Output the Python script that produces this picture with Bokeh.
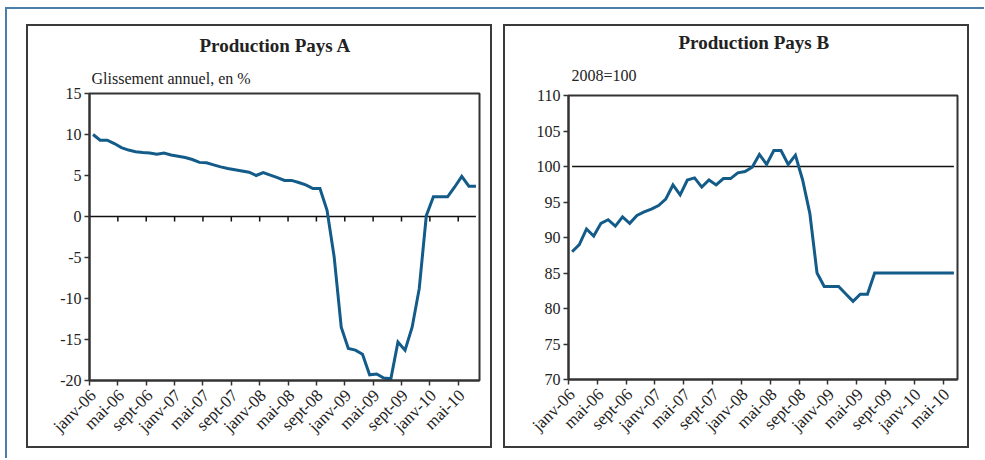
import math
from bokeh.plotting import figure
from bokeh.models import Range1d, FixedTicker, Title, Spacer
from bokeh.layouts import row, column
from bokeh.embed import file_html
from bokeh.resources import INLINE

# ---------------- data ----------------
month_labels = ["janv-06", "mai-06", "sept-06", "janv-07", "mai-07", "sept-07",
                "janv-08", "mai-08", "sept-08", "janv-09", "mai-09", "sept-09",
                "janv-10", "mai-10"]

# Production Pays A : glissement annuel, en % (janv-06 .. juil-10)
pays_a = [10.0, 9.3, 9.3, 8.9, 8.4, 8.1, 7.9, 7.8, 7.75, 7.6,
          7.75, 7.5, 7.35, 7.2, 6.95, 6.6, 6.55, 6.3, 6.05, 5.85,
          5.7, 5.55, 5.4, 5.0, 5.35, 5.05, 4.75, 4.4, 4.4, 4.15,
          3.85, 3.4, 3.4, 0.75, -4.9, -13.5, -16.1, -16.3, -16.8, -19.3,
          -19.2, -19.7, -19.8, -15.3, -16.3, -13.5, -8.8, 0.1, 2.4, 2.4,
          2.4, 3.6, 4.9, 3.7, 3.7]

# Production Pays B : 2008=100 (janv-06 .. juin-10)
pays_b = [88.0, 89.0, 91.2, 90.2, 92.0, 92.5, 91.6, 92.9, 92.0, 93.1,
          93.6, 94.0, 94.5, 95.4, 97.4, 96.0, 98.1, 98.4, 97.1, 98.1,
          97.4, 98.3, 98.3, 99.1, 99.3, 99.9, 101.7, 100.3, 102.25, 102.25,
          100.3, 101.6, 98.1, 93.4, 85.0, 83.1, 83.1, 83.1, 82.05, 81.0,
          82.0, 82.0, 85.0, 85.0, 85.0, 85.0, 85.0, 85.0, 85.0, 85.0,
          85.0, 85.0, 85.0, 85.0]

yticks_a = [-20, -15, -10, -5, 0, 5, 10, 15]
yticks_b = [70, 75, 80, 85, 90, 95, 100, 105, 110]
ref_a = 0
ref_b = 100

titles = ["Production Pays A", "Production Pays B"]
subtitles = ["Glissement annuel, en %", "2008=100"]

FONT = "Liberation Serif"
LINE_COLOR = "#135b88"
DARK = "#333333"
FRAME_BLUE = "#4a7fab"
PANEL_BORDER = "#3a3a3a"
TEXT = "#222222"


def make_panel(data, yticks, ref, ref_x0, title, subtitle,
               frame_w, frame_h, mb_l, mb_t, mb_r, mb_b,
               title_off, sub_off, title_standoff, sub_standoff, zero_ticks):
    n = len(data)
    p = figure(frame_width=frame_w, frame_height=frame_h,
               x_range=Range1d(0, n), y_range=Range1d(yticks[0], yticks[-1]),
               output_backend="svg", toolbar_location=None,
               min_border_left=mb_l, min_border_top=mb_t,
               min_border_right=mb_r, min_border_bottom=mb_b)
    p.background_fill_color = "white"
    p.border_fill_color = "white"
    p.outline_line_color = DARK
    p.outline_line_width = 2
    p.xgrid.visible = False
    p.ygrid.visible = False

    # main title (outer) and subtitle (next to the frame)
    p.title.text = title
    p.title.align = "left"
    p.title.offset = title_off
    p.title.text_font = FONT
    p.title.text_font_size = "19px"
    p.title.text_font_style = "bold"
    p.title.text_color = TEXT
    p.title.standoff = title_standoff
    p.add_layout(Title(text=subtitle, align="left", offset=sub_off,
                       text_font=FONT, text_font_size="16px",
                       text_font_style="normal", text_color=TEXT,
                       standoff=sub_standoff), "above")

    # x axis: labels at category centres, tick marks between categories
    label_pos = [4 * k + 0.5 for k in range(len(month_labels))]
    tick_pos = [4 * k for k in range(len(month_labels))]
    p.xaxis.ticker = FixedTicker(ticks=label_pos, minor_ticks=tick_pos)
    p.xaxis.major_label_overrides = {lp: lab for lp, lab in zip(label_pos, month_labels)}
    p.xaxis.major_label_orientation = math.pi / 4
    p.xaxis.major_tick_line_color = None
    p.xaxis.minor_tick_line_color = DARK
    p.xaxis.minor_tick_line_width = 1.5
    p.xaxis.minor_tick_out = 5
    p.xaxis.minor_tick_in = 0
    p.xaxis.axis_line_color = DARK
    p.xaxis.axis_line_width = 2
    p.xaxis.major_label_standoff = 6
    p.xaxis.major_label_text_font = FONT
    p.xaxis.major_label_text_font_size = "17px"
    p.xaxis.major_label_text_color = TEXT

    p.yaxis.ticker = FixedTicker(ticks=yticks, minor_ticks=[])
    p.yaxis.major_label_overrides = {t: str(t) for t in yticks}
    p.yaxis.major_tick_line_color = DARK
    p.yaxis.major_tick_line_width = 1.5
    p.yaxis.major_tick_out = 5
    p.yaxis.major_tick_in = 0
    p.yaxis.axis_line_color = DARK
    p.yaxis.axis_line_width = 2
    p.yaxis.major_label_standoff = 3
    p.yaxis.major_label_text_font = FONT
    p.yaxis.major_label_text_font_size = "16px"
    p.yaxis.major_label_text_color = TEXT

    xs = [i + 0.5 for i in range(n)]
    # reference line
    p.segment(x0=[ref_x0], x1=[xs[-1]], y0=[ref], y1=[ref],
              line_color="#111111", line_width=1.5)
    if zero_ticks:
        tick_len = (yticks[-1] - yticks[0]) / frame_h * 5
        tp = tick_pos[1:]
        p.segment(x0=tp, x1=tp, y0=[ref] * len(tp), y1=[ref - tick_len] * len(tp),
                  line_color="#111111", line_width=1.5)

    p.line(xs, data, line_color=LINE_COLOR, line_width=3, line_join="miter")
    return p


def line_spacer(w, h, color):
    return Spacer(width=w, height=h, styles={"background-color": color})


def boxed(fig, inner_w, inner_h):
    b = 2
    return column(
        line_spacer(inner_w + 2 * b, b, PANEL_BORDER),
        row(line_spacer(b, inner_h, PANEL_BORDER), fig,
            line_spacer(b, inner_h, PANEL_BORDER)),
        line_spacer(inner_w + 2 * b, b, PANEL_BORDER),
    )


# inner figure sizes: 462 x 420
p1 = make_panel(pays_a, yticks_a, ref_a, 0, titles[0], subtitles[0],
                frame_w=390, frame_h=287, mb_l=61, mb_t=67, mb_r=11, mb_b=66,
                title_off=110, sub_off=2, title_standoff=10, sub_standoff=14,
                zero_ticks=True)
p2 = make_panel(pays_b, yticks_b, ref_b, 0.5, titles[1], subtitles[1],
                frame_w=389, frame_h=284, mb_l=63, mb_t=69, mb_r=10, mb_b=67,
                title_off=110, sub_off=3, title_standoff=0, sub_standoff=24,
                zero_ticks=False)

panel1 = boxed(p1, 462, 420)
panel2 = boxed(p2, 462, 420)

layout = column(
    Spacer(width=984, height=7),
    row(Spacer(width=5, height=2), line_spacer(979, 2, FRAME_BLUE)),
    row(
        Spacer(width=5, height=449),
        line_spacer(2, 449, FRAME_BLUE),
        Spacer(width=19, height=449),
        column(Spacer(width=466, height=15), panel1),
        Spacer(width=11, height=449),
        column(Spacer(width=466, height=15), panel2),
    ),
)

open("out.html", "w").write(file_html(layout, INLINE))
